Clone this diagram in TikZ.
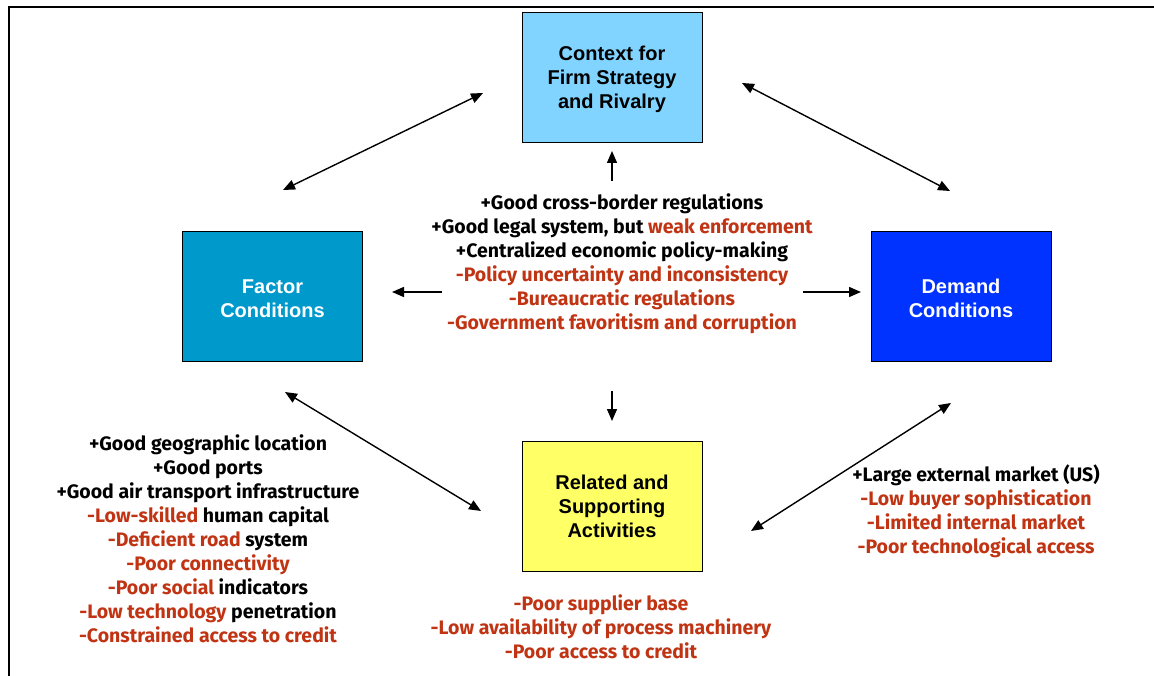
\documentclass[tikz,border=0pt]{standalone}
\usepackage{fontspec}
\setmainfont{Liberation Sans}
\newfontfamily\listfont{Fira Sans}
\usetikzlibrary{arrows.meta}
\definecolor{negred}{RGB}{192,52,20}
\definecolor{ctxblue}{RGB}{128,212,255}
\definecolor{facblue}{RGB}{0,153,204}
\definecolor{demblue}{RGB}{0,51,255}
\definecolor{relyellow}{RGB}{255,255,102}
\tikzset{
  x=1pt,y=-1pt,
  diamondbox/.style={draw=black,line width=0.8pt,minimum width=180pt,minimum height=130pt,
     inner sep=0pt,align=center,font=\fontsize{20}{24}\selectfont\bfseries},
  listtext/.style={align=center,font=\listfont\fontsize{19.5}{24}\selectfont\bfseries,inner sep=0pt},
  conn/.style={line width=1.4pt,-{Triangle[length=12pt,width=10pt]}},
  biconn/.style={line width=1.4pt,{Triangle[length=12pt,width=10pt]}-{Triangle[length=12pt,width=10pt]}},
}
\newcommand{\negtxt}[1]{\textcolor{negred}{#1}}
\begin{document}
\begin{tikzpicture}
\useasboundingbox (0,0) rectangle (1154,676);
\draw[line width=2pt] (9,676) -- (9,7) -- (1154,7);

\node[diamondbox,fill=ctxblue] (ctx) at (612,77) {\rule{0pt}{20pt}Context for\\Firm Strategy\\and Rivalry};
\node[diamondbox,fill=facblue,text=white] (fac) at (272.5,296.5) {\rule{0pt}{18pt}Factor\\Conditions};
\node[diamondbox,fill=demblue,text=white] (dem) at (961,296.5) {\rule{0pt}{18pt}Demand\\Conditions};
\node[diamondbox,fill=relyellow] (rel) at (612,506.5) {Related and\\Supporting\\Activities};

\node[listtext] (cen) at (622,264) {+Good cross-border regulations\\
+Good legal system, but \negtxt{weak enforcement}\\
+Centralized economic policy-making\\
\negtxt{-Policy uncertainty and inconsistency}\\
\negtxt{-Bureaucratic regulations}\\
\negtxt{-Government favoritism and corruption}};

\node[listtext] (lft) at (208,539) {+Good geographic location\\
+Good ports\\
+Good air transport infrastructure\\
\negtxt{-Low-skilled} human capital\\
\negtxt{-Deficient road} system\\
\negtxt{-Poor connectivity}\\
\negtxt{-Poor social} indicators\\
\negtxt{-Low technology} penetration\\
\negtxt{-Constrained access to credit}};

\node[listtext] (rgt) at (976,511) {+Large external market (US)\\
\negtxt{-Low buyer sophistication}\\
\negtxt{-Limited internal market}\\
\negtxt{-Poor technological access}};

\node[listtext] (bot) at (601,627) {\negtxt{-Poor supplier base}\\
\negtxt{-Low availability of process machinery}\\
\negtxt{-Poor access to credit}};

\coordinate (fc1) at (283,190); \coordinate (fc2) at (483,93);
\coordinate (cd1) at (742,83); \coordinate (cd2) at (950,191);
\coordinate (fr1) at (285,392); \coordinate (fr2) at (481,511);
\coordinate (dr1) at (951,403); \coordinate (dr2) at (751,531);
\coordinate (lf1) at (442,292); \coordinate (lf2) at (392,292);
\coordinate (rt1) at (803,292); \coordinate (rt2) at (861,292);
\coordinate (up1) at (612,181); \coordinate (up2) at (612,151);
\coordinate (dn1) at (612,391); \coordinate (dn2) at (612,421);

\draw[biconn] (fc1) -- (fc2);
\draw[biconn] (cd1) -- (cd2);
\draw[biconn] (fr1) -- (fr2);
\draw[biconn] (dr1) -- (dr2);
\draw[conn] (lf1) -- (lf2);
\draw[conn] (rt1) -- (rt2);
\draw[conn] (up1) -- (up2);
\draw[conn] (dn1) -- (dn2);
\end{tikzpicture}
\end{document}
